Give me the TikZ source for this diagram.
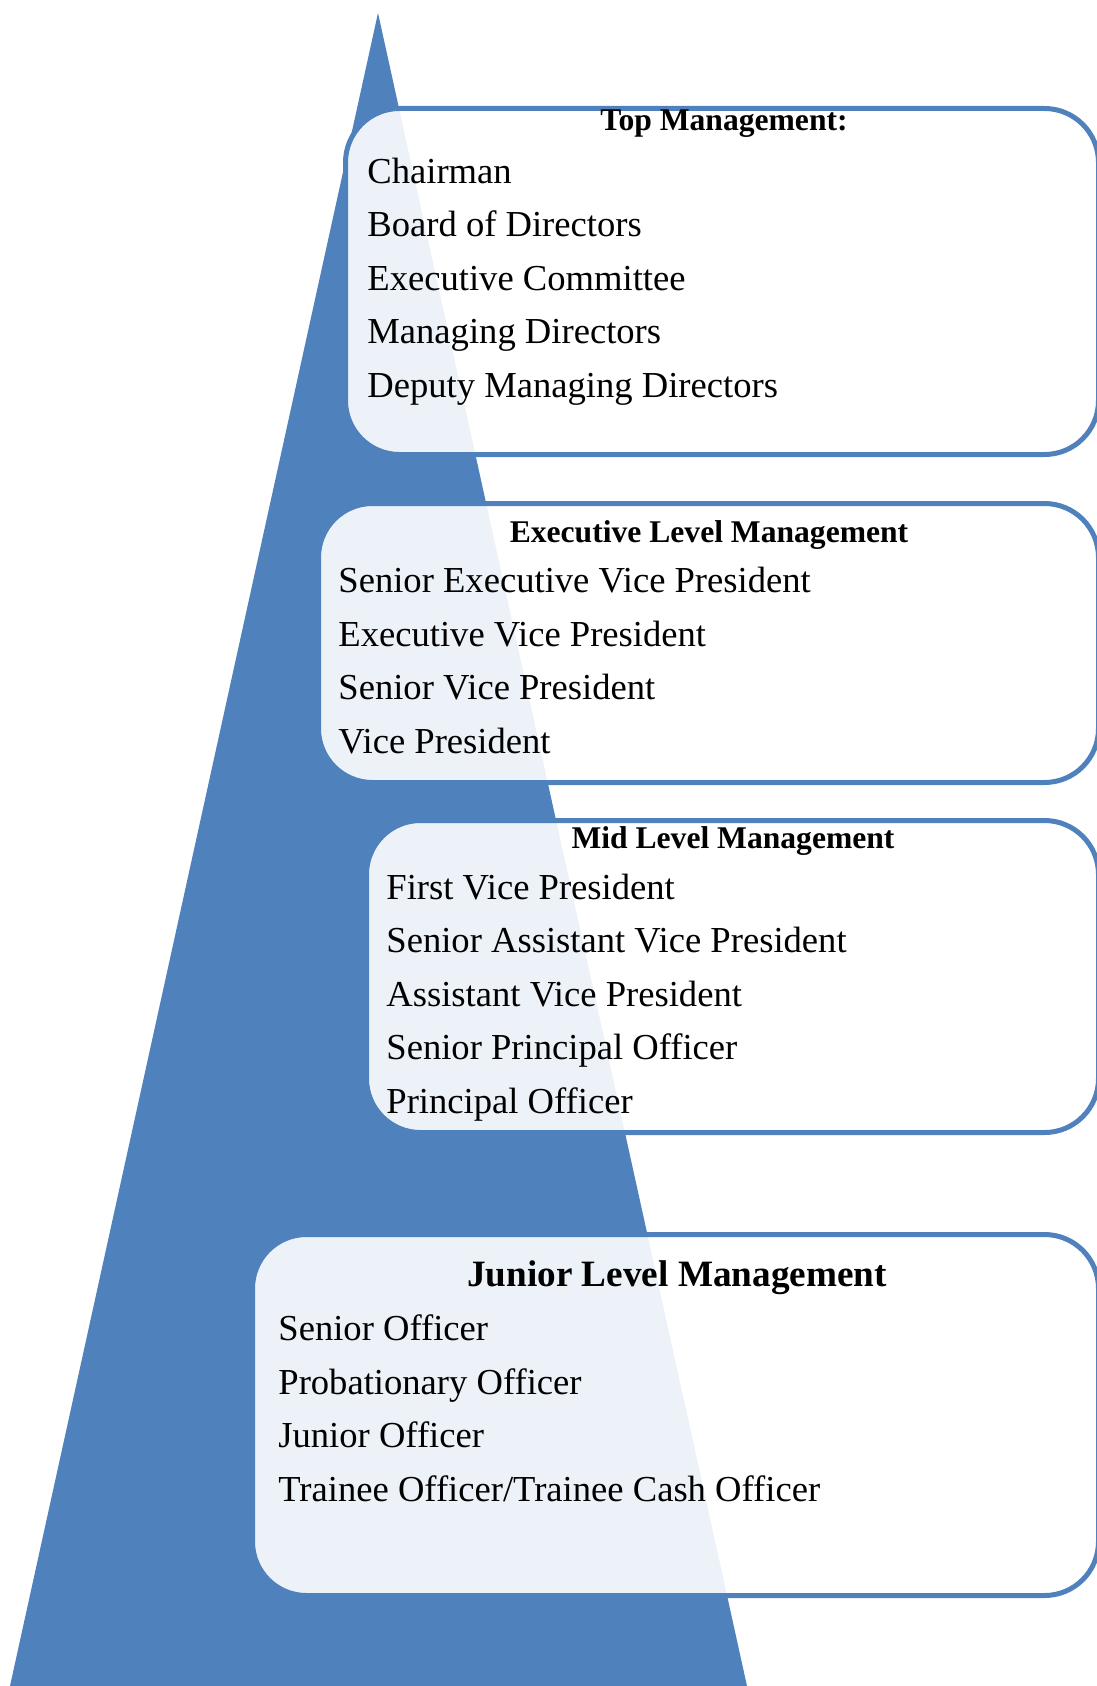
\documentclass[tikz,border=0pt]{standalone}
\usepackage{fontspec}
\setmainfont{Liberation Serif}
\definecolor{piramide}{HTML}{4F81BD}

\begin{document}
\begin{tikzpicture}[x=0.5pt, y=-0.5pt]
	% Definición de estilos
	\tikzstyle{caja} = [rectangle, draw=piramide, line width=2.5pt, fill=white,
		fill opacity=0.9, rounded corners=27pt, anchor=north west, inner sep=0pt]
	\tikzstyle{titulo} = [font=\fontsize{15.8}{19}\selectfont\bfseries, anchor=base, inner sep=0pt]
	\tikzstyle{lista} = [font=\fontsize{18.3}{26.75}\selectfont, align=left,
		anchor=base west, inner sep=0pt]

	\useasboundingbox (0,0) rectangle (1097,1686);

	% Pirámide
	\fill [piramide] (378,13) -- (747,1686) -- (10,1686) -- cycle;

	% Cajas
	\node [caja, minimum width=376.5pt, minimum height=173pt] (top) at (343,106) {};
	\node [caja, minimum width=390pt, minimum height=139.5pt] (ejecutivo) at (316,501) {};
	\node [caja, minimum width=366pt, minimum height=156pt] (medio) at (364,818) {};
	\node [caja, minimum width=423pt, minimum height=180.5pt] (junior) at (250,1232) {};

	% Títulos
	\node [titulo] (tituloTop) at (724,131) {Top Management:};
	\node [titulo] (tituloEjecutivo) at (709,542) {Executive Level Management};
	\node [titulo] (tituloMedio) at (733,848) {Mid Level Management};
	\node [titulo, font=\fontsize{18.6}{22}\selectfont\bfseries] (tituloJunior) at (677,1286) {Junior Level Management};

	% Cargos (base = última línea)
	\node [lista] (listaTop) at (367,397) {Chairman\\Board of Directors\\Executive Committee\\Managing Directors\\Deputy Managing Directors};
	\node [lista] (listaEjecutivo) at (338,753) {Senior Executive Vice President\\Executive Vice President\\Senior Vice President\\Vice President};
	\node [lista] (listaMedio) at (386,1113) {First Vice President\\Senior Assistant Vice President\\Assistant Vice President\\Senior Principal Officer\\Principal Officer};
	\node [lista] (listaJunior) at (278,1501) {Senior Officer\\Probationary Officer\\Junior Officer\\Trainee Officer/Trainee Cash Officer};
\end{tikzpicture}
\end{document}
